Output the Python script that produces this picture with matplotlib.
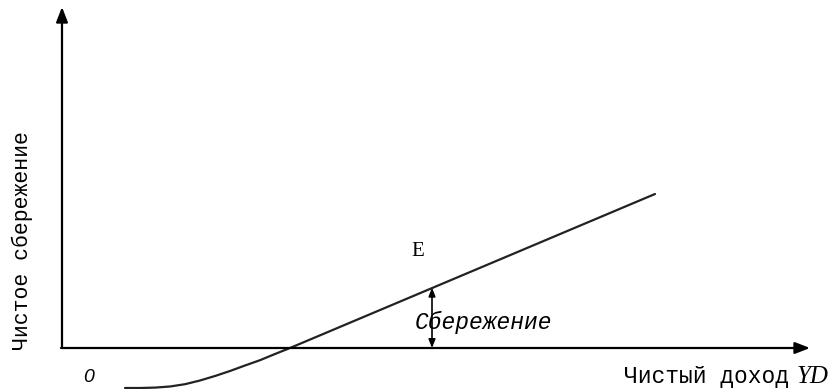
import matplotlib
matplotlib.use("Agg")
import matplotlib.pyplot as plt

# Savings curve (income, net saving) in diagram units; origin at axes crossing
income = [63, 78, 93, 108, 123, 138, 153, 168, 183, 198, 213, 228, 593]
saving = [-40, -40, -39.6, -38.5, -36.2, -32.5, -28, -23, -17.5, -12.2, -6, 0, 154]

# Point E (income level where savings are shown)
e_income = 370
e_saving = 60.3

y_label = "Чистое сбережение"
x_label = "Чистый доход"
x_label_var = "YD"
saving_label = "Сбережение"
point_label = "E"
origin_label = "0"

fig = plt.figure(figsize=(8.38, 3.89), dpi=100)
ax = fig.add_axes([0, 0, 1, 1])
ax.set_xlim(-62, 776)
ax.set_ylim(-41, 348)
ax.axis("off")

# axes with arrows
ax.annotate("", xy=(0, 341), xytext=(0, 0),
            arrowprops=dict(arrowstyle="-|>,head_length=0.9,head_width=0.35",
                            color="black", lw=1.6, shrinkA=0, shrinkB=0))
ax.annotate("", xy=(748, 0), xytext=(-1, 0),
            arrowprops=dict(arrowstyle="-|>,head_length=0.9,head_width=0.35",
                            color="black", lw=1.6, shrinkA=0, shrinkB=0))

# savings curve
ax.plot(income, saving, color="#222222", lw=1.6, solid_capstyle="round")

# double-headed arrow for savings at E
ax.annotate("", xy=(e_income, e_saving), xytext=(e_income, 0),
            arrowprops=dict(arrowstyle="<|-|>,head_length=0.5,head_width=0.2",
                            color="black", lw=1.2, shrinkA=0, shrinkB=0))

mono = "Liberation Mono"
ax.text(356, 96, point_label, fontsize=15, family="Liberation Serif",
        ha="center", va="center")
ax.text(353, 26, saving_label, fontsize=16.5, family=mono, style="italic",
        ha="left", va="center")
ax.text(27, -29, origin_label, fontsize=14, family="Liberation Sans", style="italic",
        ha="center", va="center")
ax.text(727, -29, x_label, fontsize=16.5, family=mono, ha="right", va="center")
ax.text(735, -29, x_label_var, fontsize=18, family="Liberation Serif", style="italic",
        ha="left", va="center")
ax.text(-40, 107, y_label, fontsize=15.5, family=mono, rotation=90,
        ha="center", va="center")

fig.savefig("out.png", dpi=100)
